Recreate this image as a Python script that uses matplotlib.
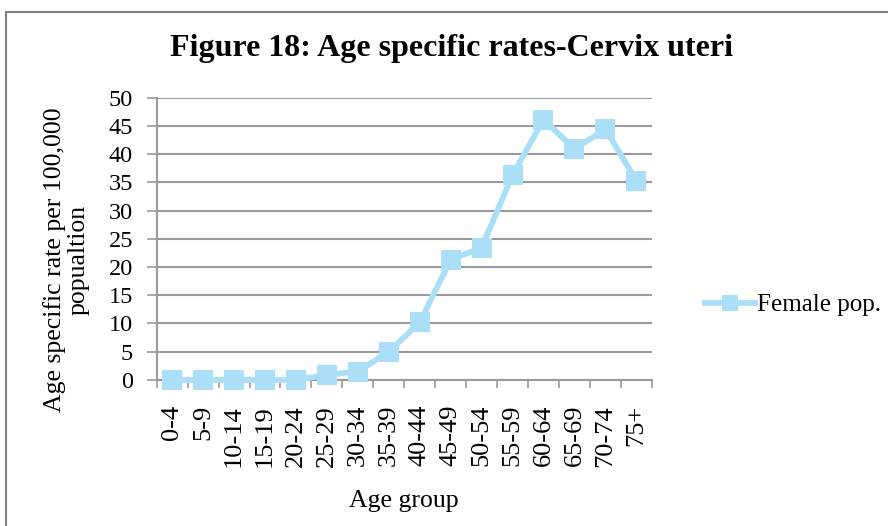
import numpy as np
import matplotlib
matplotlib.use("Agg")
import matplotlib.pyplot as plt
from matplotlib.patches import Rectangle
from matplotlib.lines import Line2D

age_groups = ["0-4", "5-9", "10-14", "15-19", "20-24", "25-29", "30-34", "35-39",
              "40-44", "45-49", "50-54", "55-59", "60-64", "65-69", "70-74", "75+"]
rates = [0.0, 0.0, 0.0, 0.0, 0.0, 0.9, 1.5, 5.0, 10.2, 21.3, 23.4, 36.3, 46.1, 40.9, 44.4, 35.3]
y_ticks = list(range(0, 51, 5))

plt.rcParams['font.family'] = ['Liberation Serif', 'DejaVu Serif']

line_col = '#ABDFF8'
grid_col = '#9a9a9a'

fig = plt.figure(figsize=(8.88, 5.26), dpi=100)
ax = fig.add_axes([0.1765, 0.2776, 0.5575, 0.537])

x = np.arange(len(age_groups))
ax.plot(x, rates, color=line_col, lw=4.2, marker='s', markersize=14,
        markeredgewidth=0, label='Female pop.', clip_on=False, zorder=5)

ax.set_xlim(-0.5, len(age_groups) - 0.5)
ax.set_ylim(0, 50)
ax.set_yticks(y_ticks)
ax.set_xticks(x)
ax.set_xticklabels(age_groups, rotation=90, fontsize=19)
ax.set_xticks(np.arange(-0.5, len(age_groups)), minor=True)
ax.tick_params(axis='x', which='major', length=0, pad=18)
ax.tick_params(axis='x', which='minor', length=6, width=1.2, color=grid_col, direction='out')
ax.tick_params(axis='y', length=7, width=1.2, color=grid_col, labelsize=17.5, pad=10)
ax.yaxis.grid(True, color=grid_col, lw=1.5)
ax.set_axisbelow(True)
for s in ['top', 'right']:
    ax.spines[s].set_visible(False)
for s in ['left', 'bottom']:
    ax.spines[s].set_color(grid_col)
    ax.spines[s].set_linewidth(1.5)

ax.set_xlabel('Age group', fontsize=18.5)
ax.xaxis.set_label_coords(0.5, -0.39)
ax.set_ylabel('Age specific rate per 100,000\npopualtion', fontsize=18.5, linespacing=1.1)
ax.yaxis.set_label_coords(-0.135, 0.425)

fig.text(0.508, 0.907, 'Figure 18: Age specific rates-Cervix uteri', ha='center', va='center',
         fontsize=23, fontweight='bold')

handle = Line2D([], [], color=line_col, lw=4.2, marker='s', markersize=12, markeredgewidth=0)
fig.legend([handle], ['Female pop.'], loc='center left', bbox_to_anchor=(0.783, 0.42),
           frameon=False, fontsize=18, handlelength=2.0, handletextpad=0.05, borderaxespad=0)

# chart area border
fig.patches.append(Rectangle((0.007, -0.05), 1.1, 1.027, transform=fig.transFigure,
                             fill=False, edgecolor='#808080', lw=1.5))

fig.savefig('out.png', dpi=100)
